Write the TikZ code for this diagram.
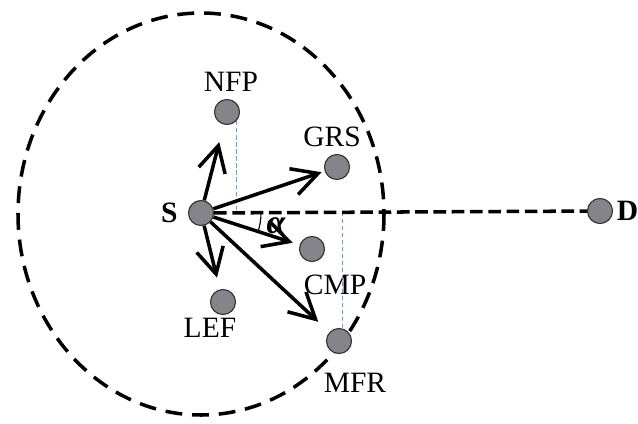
\documentclass[tikz,border=0pt]{standalone}
\usepackage{fontspec}
\setmainfont{Liberation Serif}
\usetikzlibrary{arrows.meta,positioning}
\definecolor{nodegray}{RGB}{132,132,138}
\definecolor{guideblue}{RGB}{95,160,220}
\tikzset{
  station/.style={circle,draw=black!80,fill=nodegray,line width=0.8pt,
                  minimum size=6.25mm,inner sep=0pt},
  lbl/.style    ={inner sep=0pt,font=\fontsize{21}{23}\selectfont},
  ring/.style   ={line width=2.5pt,dash pattern=on 12pt off 7pt},
  reachline/.style={line width=2.5pt,dash pattern=on 9pt off 4pt},
  link/.style   ={-{Straight Barb[length=6.4mm,width=6.8mm]},line width=2.5pt},
  guide/.style  ={guideblue,line width=0.6pt,dash pattern=on 3pt off 2pt},
}
\begin{document}
\begin{tikzpicture}[x=0.025cm,y=-0.025cm]
\useasboundingbox (0,0) rectangle (638,423);
% transmission range
\draw[ring] (201,214) ellipse [x radius=183,y radius=201];
% stations
\node[station] (s)   at (201,213) {};
\node[station] (d)   at (600,211) {};
\node[station] (nfp) at (227,112) {};
\node[station] (grs) at (337,167) {};
\node[station] (cmp) at (312,249) {};
\node[station] (lef) at (223,302) {};
\node[station] (mfr) at (339,341) {};
% labels
\node[lbl,font=\fontsize{21}{23}\selectfont\bfseries,left=2.5mm of s] (sl) {S};
\node[lbl,font=\fontsize{21}{23}\selectfont\bfseries,right=0.9mm of d] (dl) {D};
\node[lbl,above=1.9mm of nfp,xshift=1mm] (nfpl) {NFP};
\node[lbl,above=1.6mm of grs,xshift=-1.25mm] (grsl) {GRS};
\node[lbl,below=3.2mm of cmp,xshift=5.75mm] (cmpl) {CMP};
\node[lbl,below=0.8mm of lef,xshift=-3.25mm] (lefl) {LEF};
\node[lbl,below=4.7mm of mfr,xshift=4mm] (mfrl) {MFR};
% guides and baseline
\draw[guide] (nfp.-45) -- (nfp.-45 |- s);
\draw[guide] (mfr.75) -- (mfr.75 |- s);
\draw[reachline] (s) -- (d);
% forwarding candidates
\draw[link,shorten >=4.5mm] (s) -- (nfp);
\draw[link,shorten >=0.8mm] (s) -- (grs);
\draw[link,shorten >=1.8mm] (s) -- (cmp);
\draw[link,shorten >=3mm] (s) -- (lef);
\draw[link,shorten >=3.8mm] (s) -- (mfr);
% angle
\draw[line width=0.8pt] ([shift={(0:60)}]s.center) arc[start angle=0,end angle=-18,radius=1.5cm];
\node[lbl,font=\fontsize{24}{26}\selectfont\bfseries\itshape] (alpha) at (276,226) {α};
\end{tikzpicture}
\end{document}
